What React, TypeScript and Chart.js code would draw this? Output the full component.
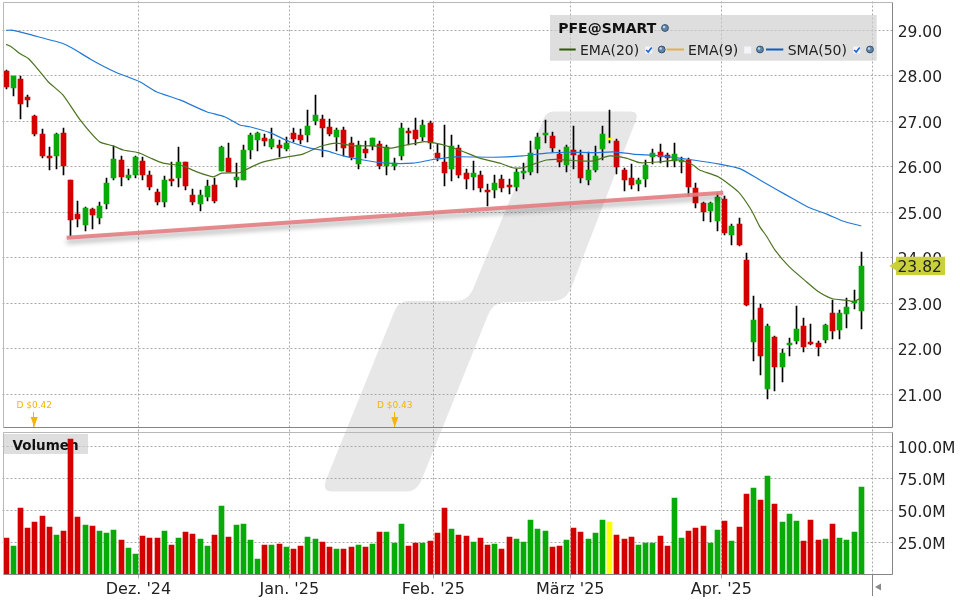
import React, { useEffect, useRef } from "react";
import { Chart, registerables } from "chart.js";

Chart.register(...registerables);

const opens = [28.10,27.74,27.93,27.53,27.12,26.72,26.24,26.24,26.74,25.71,
24.96,24.73,25.07,24.88,25.19,25.76,26.15,25.76,25.83,26.13,
25.82,25.45,25.23,25.73,25.76,26.10,25.38,25.19,25.34,25.60,
25.91,26.19,25.71,25.71,26.37,26.59,26.63,26.44,26.48,26.39,
26.74,26.70,26.70,27.01,27.05,26.88,26.66,26.81,26.52,26.06,
26.39,26.46,26.50,26.02,26.02,26.24,26.79,26.81,26.66,26.96,
26.30,26.11,25.95,26.41,25.86,25.78,25.82,25.49,25.49,25.73,
25.60,25.56,25.86,25.89,26.39,26.70,26.68,26.28,26.04,26.37,
26.26,25.71,25.93,26.39,26.59,26.57,25.93,25.75,25.62,25.73,
26.21,26.33,26.26,26.13,26.10,26.15,25.53,25.20,25.03,24.81,
25.29,24.50,24.74,23.95,22.15,22.90,21.12,22.26,21.60,22.08,
22.17,22.50,22.15,22.13,22.19,22.79,22.41,22.76,23.01,22.83];

const closes = [27.76,27.99,27.37,27.47,26.73,26.24,26.20,26.72,26.02,24.82,
24.85,25.09,24.95,25.14,25.64,26.17,25.78,25.82,26.21,25.83,
25.56,25.23,25.71,25.69,26.10,25.58,25.23,25.38,25.58,25.25,
26.43,25.89,25.77,26.37,26.70,26.74,26.57,26.61,26.41,26.52,
26.61,26.59,26.90,27.14,26.85,26.72,26.81,26.41,26.22,26.48,
26.30,26.63,26.02,26.44,26.08,26.85,26.74,26.61,26.92,26.52,
26.19,25.86,26.46,25.82,25.73,25.86,25.53,25.45,25.64,25.53,
25.56,25.89,25.91,26.30,26.65,26.74,26.41,26.10,26.44,26.26,
25.75,25.93,26.24,26.72,26.63,25.99,25.71,25.60,25.71,26.04,
26.30,26.21,26.19,26.28,26.15,25.56,25.21,25.00,25.20,25.33,
24.54,24.70,24.28,22.96,22.63,21.84,22.50,21.60,21.91,22.13,
22.43,22.04,22.11,22.04,22.52,22.39,22.79,22.92,23.05,23.82];

const highs = [28.13,28.00,27.99,27.58,27.14,26.83,26.43,26.74,26.85,25.71,
25.25,25.12,25.09,25.23,25.75,26.45,26.24,25.95,26.24,26.21,
25.91,25.51,25.80,26.10,26.43,26.10,25.51,25.49,25.71,25.75,
26.45,26.52,26.08,26.48,26.74,26.77,26.72,26.85,26.59,26.66,
26.85,26.83,27.25,27.58,27.14,27.05,26.85,26.88,26.66,26.57,
26.57,26.63,26.57,26.48,26.19,26.96,26.85,27.07,27.03,27.01,
26.50,26.92,26.70,26.48,25.95,26.13,25.91,25.62,25.82,25.82,
25.73,25.95,26.08,26.57,26.74,27.03,26.76,26.37,26.48,26.90,
26.37,26.33,26.46,26.90,27.25,26.61,25.97,26.06,25.75,26.15,
26.39,26.50,26.30,26.52,26.21,26.19,25.64,25.22,25.22,25.42,
25.36,24.74,24.87,24.10,23.16,22.98,22.54,22.28,22.00,22.24,
22.94,22.68,22.54,22.17,22.54,23.07,22.85,23.12,23.29,24.13];

const lows = [27.72,27.56,27.05,27.31,26.68,26.19,25.94,25.96,25.83,24.47,
24.68,24.60,24.63,24.75,25.08,25.72,25.58,25.70,25.76,25.72,
25.50,25.17,25.12,25.58,25.56,25.50,25.15,25.03,25.25,25.20,
25.91,25.89,25.56,25.71,26.17,26.35,26.46,26.39,26.22,26.35,
26.55,26.50,26.55,26.92,26.22,26.68,26.35,26.24,26.15,25.95,
26.19,26.37,25.95,25.82,25.93,26.15,26.48,26.48,26.57,26.39,
26.13,25.58,25.69,25.75,25.51,25.49,25.45,25.14,25.31,25.45,
25.40,25.47,25.73,25.82,25.86,26.52,26.33,25.99,25.89,25.95,
25.64,25.60,25.89,26.15,26.52,25.84,25.47,25.51,25.47,25.56,
26.06,26.08,25.99,25.99,25.86,25.36,25.09,24.81,24.78,24.59,
24.50,24.28,24.26,22.94,21.73,21.42,20.90,21.07,21.27,21.84,
22.11,21.93,22.08,21.84,22.13,22.22,22.22,22.46,22.87,22.43];

const volumes = [28.4,22.1,51.8,36.2,40.9,45.6,37,30.7,33.9,105.7,
44.8,38.5,37.8,33.9,32.3,34.6,26.8,20.6,15.9,29.9,
28.4,28.4,33.9,22.9,28.4,33.1,31.5,27.6,22.1,30.7,
53.4,29.2,38.5,39.3,26.8,12,22.9,22.9,23.7,21.4,
19.8,22.1,29.2,27.6,25.3,21.4,19.8,19.8,21.4,22.9,
21.4,23.7,33.1,33.1,24.5,39.3,22.1,24.5,24.5,26,
32.3,51.8,35.4,30.7,29.9,25.3,28.4,22.9,23.7,19.8,
29.2,27.6,25.3,42.4,35.4,33.9,21.4,22.1,26.8,36.2,
33.1,27.6,32.3,42.4,40.9,30.7,27.6,29.2,22.9,24.5,
24.5,29.9,22.1,59.6,28.4,33.9,36.2,37.8,24.5,34.6,
41.7,26,37,62.8,67.4,58.1,76.8,54.9,40.9,47.1,
41.7,26,42.4,26.8,27.6,39.3,28.4,26.8,33.1,68.2];

const smaIdx = [0,1,3.7,7.9,9.3,11.8,15.1,18.6,20.9,24.2,27.9,30.4,32.5,33.9,36.7,39.5,42.3,44.6,46.9,49.7,52.9,56.6,59.4,62.7,67.8,71.9,75.2,78.4,81.7,84.5,87.2,91,95.6,99.3,102.1,104.9,107.2,109.5,111.8,114.2,116.4,119];
const smaVals = [29.00,29.00,28.89,28.71,28.60,28.36,28.09,27.87,27.65,27.47,27.21,27.10,26.92,26.88,26.75,26.55,26.41,26.35,26.24,26.15,26.08,26.08,26.16,26.22,26.21,26.24,26.30,26.32,26.31,26.33,26.28,26.24,26.15,26.06,25.96,25.71,25.50,25.30,25.10,24.96,24.81,24.70];

const emaIdx = [0,0.8,1.9,3.1,4.5,5.85,7.9,10.3,13,14.9,16.3,18.4,20,21.85,24.6,26.5,28.8,30,32.5,33.4,35.3,36.7,38.5,41.3,43.6,46,48.3,51.1,53.4,55.7,58,59.4,61.7,64.5,65.9,68.7,70.5,71.9,73.8,75.2,77,79.8,81.7,84,86.3,88.2,91,93.7,95.6,96.5,99.1,101.9,103.7,104.9,105.8,107,109,111.4,113,115,116.9,118,119];
const emaVals = [28.69,28.63,28.49,28.38,28.13,27.87,27.58,27.03,26.55,26.46,26.37,26.31,26.20,26.08,26.02,25.89,25.78,25.86,25.87,25.94,26.08,26.14,26.20,26.28,26.44,26.52,26.46,26.46,26.41,26.48,26.55,26.53,26.44,26.28,26.19,26.08,25.98,25.98,26.08,26.15,26.16,26.13,26.13,26.24,26.19,26.09,26.11,26.15,26.04,25.93,25.78,25.45,25.05,24.68,24.48,24.17,23.80,23.47,23.26,23.10,23.07,23.04,23.12];

const trendIdx = [8.43, 99.8];
const trendVals = [24.44, 25.43];

const priceTicks = [21, 22, 23, 24, 25, 26, 27, 28, 29];
const volumeTicks = [25, 50, 75, 100];
const monthTicks = [18.42, 39.41, 59.45, 78.51, 99.53, 120.55];
const monthLabels = ["Dez. '24", "Jan. '25", "Feb. '25", "März '25", "Apr. '25", ""];
const dividendIdx = [3.84, 54.02];
const dividendLabels = ["D $0.42", "D $0.43"];
const yellowIndex = 84;
const lastPrice = 23.82;
const FONT = '"DejaVu Sans"';

const RED = "#d40000";
const GREEN = "#08aa08";
const YELLOW = "#ffff00";
const candleColor = (i: number) =>
  i === yellowIndex ? YELLOW : closes[i] >= opens[i] ? GREEN : RED;

function gear(ctx: CanvasRenderingContext2D, x: number, y: number) {
  ctx.beginPath();
  ctx.arc(x, y, 3.4, 0, Math.PI * 2);
  ctx.fillStyle = "#5b86ad";
  ctx.fill();
  ctx.strokeStyle = "#39516b";
  ctx.lineWidth = 1;
  ctx.stroke();
  ctx.beginPath();
  ctx.arc(x - 1, y - 1, 1.2, 0, Math.PI * 2);
  ctx.fillStyle = "#c4d8ea";
  ctx.fill();
}

function checkbox(ctx: CanvasRenderingContext2D, x: number, y: number, on: boolean) {
  ctx.fillStyle = "#f4f4fb";
  ctx.fillRect(x - 3.5, y - 3.5, 7, 7);
  if (on) {
    ctx.beginPath();
    ctx.moveTo(x - 2.5, y);
    ctx.lineTo(x - 0.5, y + 2);
    ctx.lineTo(x + 3, y - 2.5);
    ctx.strokeStyle = "#1764d8";
    ctx.lineWidth = 1.6;
    ctx.stroke();
  }
}

const fitRight = (s: any) => {
  s.width = 68.3;
  s.paddingTop = 0;
  s.paddingBottom = 0;
};

const chromePlugin = {
  id: "chrome",
  afterLayout(chart: any) {
    [chart.scales.y, chart.scales.v].forEach((s: any) => {
      s.getLabelItems(chart.chartArea).forEach((item: any) => {
        item.options.translation[1] += 2.5;
      });
    });
  },
  beforeDraw(chart: any) {
    const ctx: CanvasRenderingContext2D = chart.ctx;
    ctx.save();
    ctx.fillStyle = "#ffffff";
    ctx.fillRect(0, 0, chart.width, chart.height);
    ctx.fillStyle = "#e7e7e7";
    ctx.beginPath();
    ctx.moveTo(553, 111.5);
    ctx.lineTo(630, 111.5);
    ctx.quadraticCurveTo(639, 111.5, 636, 120);
    ctx.lineTo(571.5, 287);
    ctx.quadraticCurveTo(566, 301, 553, 301);
    ctx.lineTo(503, 302.5);
    ctx.quadraticCurveTo(493, 303, 488, 315);
    ctx.lineTo(421.5, 480);
    ctx.quadraticCurveTo(417, 491.5, 406, 491.5);
    ctx.lineTo(332, 491.5);
    ctx.quadraticCurveTo(322, 491.5, 326, 480);
    ctx.lineTo(395, 310);
    ctx.quadraticCurveTo(399, 301, 409, 301);
    ctx.lineTo(455, 301);
    ctx.quadraticCurveTo(468, 301, 473, 289);
    ctx.lineTo(544, 118);
    ctx.quadraticCurveTo(547, 111.5, 553, 111.5);
    ctx.closePath();
    ctx.fill();
    ctx.restore();
  },
  beforeDatasetsDraw(chart: any) {
    const ctx: CanvasRenderingContext2D = chart.ctx;
    const v = chart.scales.v;
    ctx.save();
    ctx.fillStyle = "rgba(205,205,205,0.65)";
    ctx.fillRect(4, v.top + 6.7, 84, 20);
    ctx.fillStyle = "#111";
    ctx.font = `bold 13.5px ${FONT}`;
    ctx.textAlign = "left";
    ctx.textBaseline = "alphabetic";
    ctx.fillText("Volumen", 12.5, v.top + 22.7);
    ctx.restore();
  },
  afterDatasetsUpdate(chart: any) {
    chart.data.datasets.forEach((_: any, i: number) => {
      const meta = chart.getDatasetMeta(i);
      if (meta.type !== "bar") return;
      meta.data.forEach((el: any) => {
        el.x = Math.floor(el.x) + 0.5;
        el.y = Math.round(el.y);
        el.base = Math.round(el.base);
      });
    });
  },
  beforeDatasetDraw(chart: any, args: any) {
    if (chart.data.datasets[args.index].label === "Trend") {
      const ctx = chart.ctx;
      ctx.save();
      ctx.shadowColor = "rgba(0,0,0,0.32)";
      ctx.shadowBlur = 5;
      ctx.shadowOffsetY = 4;
    }
  },
  afterDatasetDraw(chart: any, args: any) {
    if (chart.data.datasets[args.index].label === "Trend") chart.ctx.restore();
  },
  afterDraw(chart: any) {
    const ctx: CanvasRenderingContext2D = chart.ctx;
    const { x, y, v } = chart.scales;
    const left = chart.chartArea.left;
    const right = chart.chartArea.right;
    ctx.save();

    // legend panel
    ctx.fillStyle = "rgba(205,205,205,0.65)";
    ctx.fillRect(550, 15, 326.7, 45.7);
    ctx.fillStyle = "#111";
    ctx.font = `bold 14px ${FONT}`;
    ctx.textAlign = "left";
    ctx.textBaseline = "alphabetic";
    ctx.fillText("PFE@SMART", 558.3, 33.3);
    gear(ctx, 665, 28);
    const items: [string, string, number, number, number, boolean, number, number][] = [
      ["EMA(20)", "#2d5a08", 559.3, 575.7, 580, true, 648.7, 661.7],
      ["EMA(9)", "#e0b050", 666.7, 684, 688, false, 747.7, 760],
      ["SMA(50)", "#0a5fc0", 766, 783.3, 787.7, true, 856.7, 870],
    ];
    items.forEach(([label, color, x0, x1, tx, on, cx, gx]) => {
      ctx.fillStyle = color;
      ctx.fillRect(x0, 48.5, x1 - x0, 2);
      ctx.fillStyle = "#222";
      ctx.font = `14px ${FONT}`;
      ctx.fillText(label, tx, 54.5);
      checkbox(ctx, cx, 50, on);
      gear(ctx, gx, 49.5);
    });

    // dividends
    dividendIdx.forEach((d, i) => {
      const px = x.getPixelForValue(d);
      const bottom = y.bottom;
      ctx.fillStyle = "#f2b600";
      ctx.font = `9px ${FONT}`;
      ctx.textAlign = "center";
      ctx.fillText(dividendLabels[i], px + 0.5, 407.5);
      ctx.fillRect(Math.floor(px), 412, 1, 15);
      ctx.beginPath();
      ctx.moveTo(px - 3, 417);
      ctx.lineTo(px + 4, 417);
      ctx.lineTo(px + 0.5, bottom);
      ctx.closePath();
      ctx.fill();
    });

    // panel frames
    const panel = (s: any) => {
      ctx.strokeStyle = "#b8b8b8";
      ctx.lineWidth = 1;
      ctx.beginPath();
      ctx.moveTo(Math.round(left) + 0.5, Math.round(s.bottom) + 0.5);
      ctx.lineTo(Math.round(left) + 0.5, Math.round(s.top) + 0.5);
      ctx.lineTo(Math.round(right) + 0.5, Math.round(s.top) + 0.5);
      ctx.stroke();
      ctx.strokeStyle = "#858585";
      ctx.beginPath();
      ctx.moveTo(Math.round(right) + 0.5, Math.round(s.top) + 0.5);
      ctx.lineTo(Math.round(right) + 0.5, Math.round(s.bottom) + 0.5);
      ctx.lineTo(Math.round(left) + 0.5, Math.round(s.bottom) + 0.5);
      ctx.stroke();
    };
    panel(y);
    const volTop = v.getPixelForValue(110.9);
    panel({ top: volTop, bottom: v.bottom });

    // end marker below the axis
    const endX = Math.round(x.getPixelForValue(monthTicks[5])) + 0.5;
    ctx.strokeStyle = "#858585";
    ctx.beginPath();
    ctx.moveTo(endX, v.bottom);
    ctx.lineTo(endX, 596);
    ctx.stroke();
    ctx.fillStyle = "#8a8a8a";
    ctx.beginPath();
    ctx.moveTo(875, 587);
    ctx.lineTo(881, 583.5);
    ctx.lineTo(881, 590.5);
    ctx.closePath();
    ctx.fill();

    // last price tag
    const py = y.getPixelForValue(lastPrice);
    ctx.fillStyle = "#cad03a";
    ctx.beginPath();
    ctx.moveTo(889.3, py);
    ctx.lineTo(896, py - 4.5);
    ctx.lineTo(896, py - 9.3);
    ctx.lineTo(945, py - 9.3);
    ctx.lineTo(945, py + 9);
    ctx.lineTo(896, py + 9);
    ctx.lineTo(896, py + 4.5);
    ctx.closePath();
    ctx.fill();
    ctx.fillStyle = "#222";
    ctx.font = `15.5px ${FONT}`;
    ctx.textAlign = "left";
    ctx.textBaseline = "middle";
    ctx.fillText(lastPrice.toFixed(2), 897.5, py + 2);
    ctx.restore();
  },
};

export default function App() {
  const ref = useRef<HTMLCanvasElement | null>(null);
  useEffect(() => {
    const idx = opens.map((_, i) => i);
    const tickFont = { family: FONT, size: 15.5 };
    const chart = new Chart(ref.current as HTMLCanvasElement, {
      type: "bar",
      data: {
        datasets: [
          {
            type: "line",
            label: "Trend",
            order: 0,
            xAxisID: "x",
            yAxisID: "y",
            data: trendIdx.map((t, i) => ({ x: t, y: trendVals[i] })),
            borderColor: "rgba(228,125,130,0.9)",
            borderWidth: 4,
            borderCapStyle: "butt",
            pointRadius: 0,
          },
          {
            type: "line",
            label: "EMA(20)",
            order: 1,
            xAxisID: "x",
            yAxisID: "y",
            data: emaIdx.map((t, i) => ({ x: t, y: emaVals[i] })),
            borderColor: "#4c7420",
            borderWidth: 1.2,
            tension: 0.2,
            pointRadius: 0,
          },
          {
            type: "line",
            label: "SMA(50)",
            order: 2,
            xAxisID: "x",
            yAxisID: "y",
            data: smaIdx.map((t, i) => ({ x: t, y: smaVals[i] })),
            borderColor: "#2278d8",
            borderWidth: 1.2,
            tension: 0.2,
            pointRadius: 0,
          },
          {
            label: "Body",
            order: 3,
            xAxisID: "x",
            yAxisID: "y",
            grouped: false,
            barThickness: 5,
            data: idx.map((i) => ({ x: i, y: [opens[i], closes[i]] })),
            backgroundColor: idx.map(candleColor),
          },
          {
            label: "Wick",
            order: 4,
            xAxisID: "x",
            yAxisID: "y",
            grouped: false,
            barThickness: 1,
            data: idx.map((i) => ({ x: i, y: [lows[i], highs[i]] })),
            backgroundColor: "#000000",
          },
          {
            label: "Volumen",
            order: 5,
            xAxisID: "x",
            yAxisID: "v",
            grouped: false,
            barThickness: 5,
            data: idx.map((i) => ({ x: i, y: volumes[i] })),
            backgroundColor: idx.map(candleColor),
          },
        ] as any,
      },
      options: {
        animation: false,
        responsive: false,
        devicePixelRatio: 1,
        layout: { autoPadding: false, padding: { left: 2.5, top: 1.5, right: 0, bottom: 0 } },
        plugins: { legend: { display: false }, tooltip: { enabled: false } },
        scales: {
          x: {
            type: "linear",
            position: "bottom",
            offset: false,
            min: -0.501,
            max: 123.24,
            afterFit: (s: any) => { s.height = 25.7; s.paddingLeft = 0; s.paddingRight = 0; },
            afterBuildTicks: (s: any) => { s.ticks = monthTicks.map((value) => ({ value })); },
            grid: { offset: false, color: "#a8a8a8", drawTicks: true, tickLength: 4, lineWidth: 1 },
            border: { display: false, dash: [2, 2] },
            ticks: {
              autoSkip: false,
              maxRotation: 0,
              minRotation: 0,
              padding: 2,
              color: "#222",
              font: { family: FONT, size: 16 },
              callback: (_v: any, i: number) => monthLabels[i],
            },
          },
          y: {
            type: "linear",
            position: "right",
            stack: "panels",
            stackWeight: 425.8,
            weight: 0,
            min: 20.275,
            max: 29.633,
            afterFit: fitRight,
            afterBuildTicks: (s: any) => { s.ticks = priceTicks.map((value) => ({ value })); },
            grid: { color: "#a8a8a8", drawTicks: false, lineWidth: 1 },
            border: { display: false, dash: [2, 2] },
            ticks: {
              padding: 6,
              color: "#222",
              font: tickFont,
              crossAlign: "near",
              callback: (value: any) => Number(value).toFixed(2),
            },
          },
          v: {
            type: "linear",
            position: "right",
            stack: "panels",
            stackWeight: 147,
            weight: 1,
            min: 0,
            max: 114.84,
            afterFit: fitRight,
            afterBuildTicks: (s: any) => { s.ticks = volumeTicks.map((value) => ({ value })); },
            grid: { color: "#a8a8a8", drawTicks: false, lineWidth: 1 },
            border: { display: false, dash: [2, 2] },
            ticks: {
              padding: 6,
              color: "#222",
              font: tickFont,
              crossAlign: "near",
              callback: (value: any) => `${Number(value).toFixed(1)}M`,
            },
          },
        },
      } as any,
      plugins: [chromePlugin as any],
    });
    return () => chart.destroy();
  }, []);

  return (
    <div style={{ position: "fixed", left: 0, top: 0, width: 960, height: 600, background: "#fff" }}>
      <canvas ref={ref} width={960} height={600} style={{ display: "block", width: 960, height: 600 }} />
    </div>
  );
}
